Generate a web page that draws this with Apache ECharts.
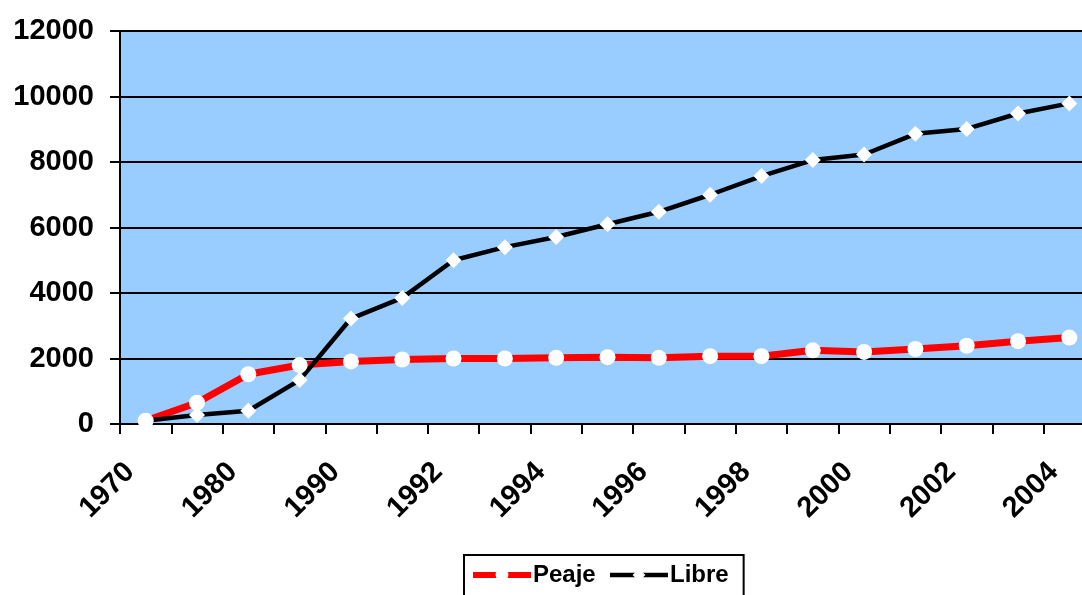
<!DOCTYPE html>
<html>
<head>
<meta charset="utf-8">
<script src="https://cdn.jsdelivr.net/npm/echarts@6/dist/echarts.min.js"></script>
<style>
  html, body { margin: 0; padding: 0; background: #fff; }
  #main { width: 1082px; height: 595px; }
</style>
</head>
<body>
<div id="main"></div>
<script>
const years = ['1970', '1975', '1980', '1985', '1990', '1991', '1992', '1993', '1994', '1995',
  '1996', '1997', '1998', '1999', '2000', '2001', '2002', '2003', '2004']
const peaje = [100, 650, 1520, 1800, 1910, 1970, 2000, 2000, 2020, 2040,
  2020, 2070, 2070, 2250, 2200, 2290, 2390, 2530, 2640]
const libre = [100, 275, 405, 1340, 3220, 3850, 5000, 5400, 5710, 6100,
  6480, 7000, 7570, 8060, 8230, 8860, 9010, 9480, 9790]
const yTicks = { min: 0, max: 12000, step: 2000 }

const chart = echarts.init(document.getElementById('main'))
const font = 'Liberation Sans, Arial, sans-serif'

const option = {
  animation: false,
  textStyle: { fontFamily: font },
  grid: {
    left: 120,
    top: 31,
    bottom: 171,
    width: 975,
    outerBoundsMode: 'none',
    containLabel: false,
    backgroundColor: '#99CCFF',
    show: true,
    borderWidth: 0
  },
  legend: {
    data: [
      { name: 'Peaje', lineStyle: { width: 6 } },
      { name: 'Libre', lineStyle: { width: 4.5 } }
    ],
    left: 464,
    top: 555,
    itemWidth: 58,
    itemHeight: 16,
    itemGap: 12,
    padding: [8, 15, 10, 6],
    borderColor: '#000',
    borderWidth: 2,
    backgroundColor: '#fff',
    textStyle: {
      fontFamily: font,
      fontSize: 24,
      fontWeight: 'bold',
      color: '#000',
      padding: [0, 0, 0, -3]
    }
  },
  xAxis: {
    type: 'category',
    data: years,
    boundaryGap: true,
    axisLine: { lineStyle: { color: '#000', width: 2 } },
    axisTick: { show: true, interval: 0, length: 10, lineStyle: { color: '#000', width: 2 } },
    axisLabel: {
      interval: 1,
      rotate: 45,
      margin: 28,
      padding: [0, 22, 0, 0],
      fontFamily: font,
      fontSize: 29,
      fontWeight: 'bold',
      color: '#000'
    },
    splitLine: { show: false }
  },
  yAxis: {
    type: 'value',
    min: yTicks.min,
    max: yTicks.max,
    interval: yTicks.step,
    axisLine: { show: true, lineStyle: { color: '#000', width: 2 } },
    axisTick: { show: true, length: 10, lineStyle: { color: '#000', width: 2 } },
    axisLabel: {
      margin: 26,
      formatter: v => String(v),
      fontFamily: font,
      fontSize: 29,
      fontWeight: 'bold',
      color: '#000'
    },
    splitLine: { show: true, lineStyle: { color: '#000', width: 2 } }
  },
  series: [
    {
      name: 'Peaje',
      type: 'line',
      data: peaje,
      symbol: 'circle',
      symbolSize: 16,
      showAllSymbol: true,
      lineStyle: { color: '#FF0000', width: 7 },
      itemStyle: { color: '#fff', borderWidth: 0 }
    },
    {
      name: 'Libre',
      type: 'line',
      data: libre,
      symbol: 'diamond',
      symbolSize: 16,
      showAllSymbol: true,
      lineStyle: { color: '#000', width: 4.5 },
      itemStyle: { color: '#fff', borderWidth: 0 }
    }
  ]
}
chart.setOption(option)
</script>
</body>
</html>
